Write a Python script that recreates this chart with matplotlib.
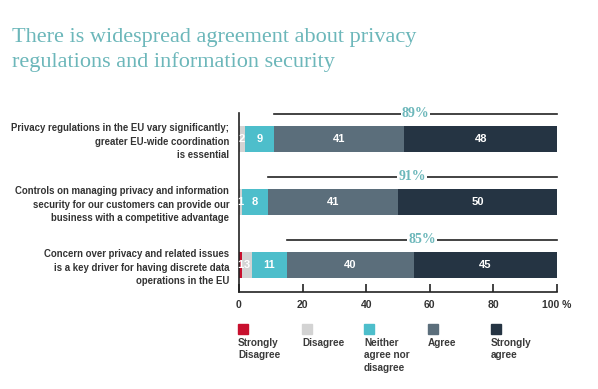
import matplotlib.pyplot as plt
from matplotlib.patches import Rectangle
import numpy as np

statements = [
    "Privacy regulations in the EU vary significantly;\ngreater EU-wide coordination\nis essential",
    "Controls on managing privacy and information\nsecurity for our customers can provide our\nbusiness with a competitive advantage",
    "Concern over privacy and related issues\nis a key driver for having discrete data\noperations in the EU",
]
series_names = ["Strongly\nDisagree", "Disagree", "Neither\nagree nor\ndisagree", "Agree", "Strongly\nagree"]
strongly_disagree = [0, 0, 1]
disagree = [2, 1, 3]
neither = [9, 8, 11]
agree = [41, 41, 40]
strongly_agree = [48, 50, 45]
agreement_total = ["89%", "91%", "85%"]
xticks = [0, 20, 40, 60, 80, 100]
xtick_labels = ["0", "20", "40", "60", "80", "100 %"]
title_lines = ["There is widespread agreement about privacy",
               "regulations and information security"]

colors = ["#c8102e", "#d3d3d3", "#4dbecb", "#5b6e7b", "#253443"]
teal_title = "#6cb7ba"
sans = "Liberation Sans"

fig = plt.figure(figsize=(5.98, 3.89), dpi=100)
fig.patch.set_facecolor("white")

for i, line in enumerate(title_lines):
    fig.text(12/598, 1 - (42 + 25*i)/389, line,
             family="Liberation Serif", fontsize=16, color=teal_title,
             va="baseline", ha="left")

ax = fig.add_axes([239/598, 97/389, 318/598, 179/389])
ypos = np.array([2, 1, 0])
height = 0.41
data = [strongly_disagree, disagree, neither, agree, strongly_agree]
left = np.zeros(3)
for vals, c in zip(data, colors):
    vals = np.array(vals, dtype=float)
    ax.barh(ypos, vals, left=left, height=height, color=c, edgecolor="none")
    for y, v, l in zip(ypos, vals, left):
        if v > 0:
            ax.text(l + v/2, y, f"{int(v)}", ha="center", va="center", color="white",
                    family=sans, fontsize=8, fontweight="bold")
    left += vals

# agreement brackets
for y, a, sa, lab in zip(ypos, agree, strongly_agree, agreement_total):
    start = 100 - a - sa
    ax.plot([start, 100], [y + 0.40, y + 0.40], color="#222222", lw=1.2, clip_on=False)
    ax.text((start + 100)/2, y + 0.40, lab, ha="center", va="center", color=teal_title,
            family="Liberation Serif", fontsize=10, fontweight="bold",
            bbox=dict(facecolor="white", edgecolor="none", pad=0.8), clip_on=False)

ax.set_xlim(0, 100)
ax.set_ylim(-0.43, 2.41)
ax.set_xticks(xticks)
ax.set_xticklabels(xtick_labels, fontsize=7.5, fontweight="bold", color="#333333", family=sans)
ax.tick_params(axis="x", direction="in", length=6, width=1.2, color="#222222", pad=6)
ax.set_yticks(ypos)
ax.set_yticklabels(statements, fontsize=6.9, fontweight="bold", color="#333333",
                   linespacing=1.45, family=sans)
ax.tick_params(axis="y", length=0, pad=7)
for s in ["top", "right"]:
    ax.spines[s].set_visible(False)
for s in ["left", "bottom"]:
    ax.spines[s].set_color("#222222")
    ax.spines[s].set_linewidth(1.2)

# legend
leg_x = [238, 302, 364, 428, 491]
for x, name, c in zip(leg_x, series_names, colors):
    fig.patches.append(Rectangle((x/598, 1 - 334/389), 10/598, 10/389, color=c,
                                 transform=fig.transFigure, figure=fig))
    fig.text(x/598, 1 - 338/389, name, fontsize=7.2, fontweight="bold", color="#3a3a3a",
             family=sans, va="top", ha="left", linespacing=1.3)

fig.savefig("out.png", dpi=100)
